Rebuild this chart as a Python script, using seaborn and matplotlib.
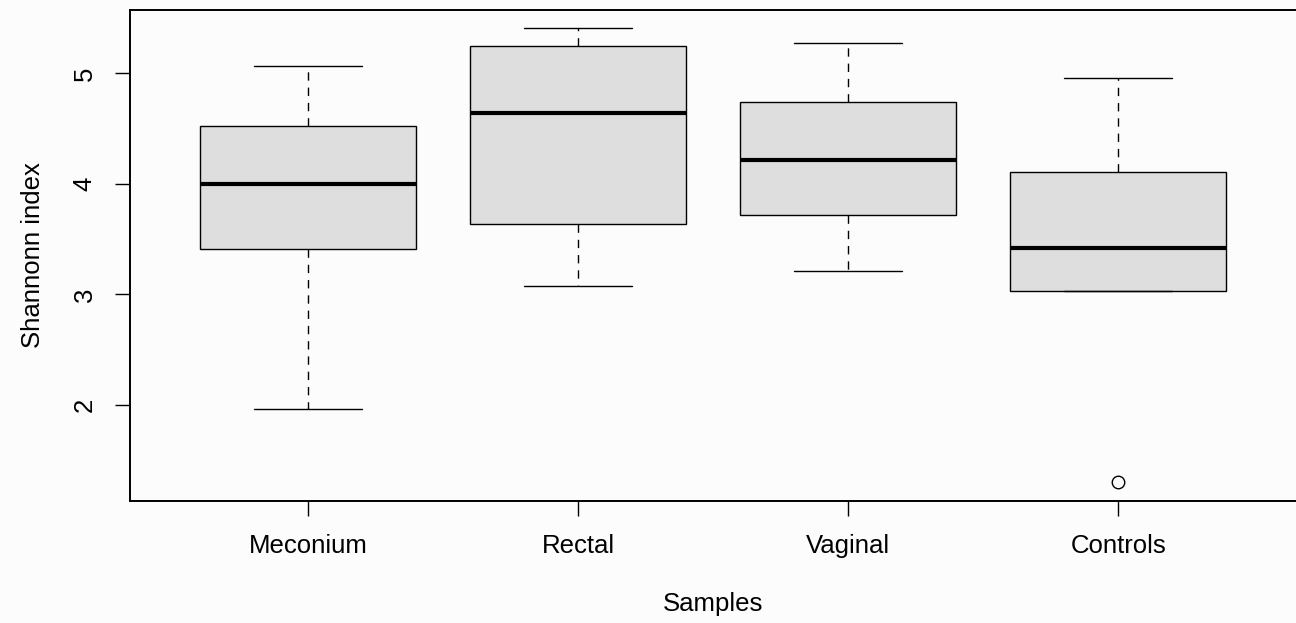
import pandas as pd
import matplotlib.pyplot as plt
import seaborn as sns

groups = ["Meconium", "Rectal", "Vaginal", "Controls"]
meconium = [1.96, 3.41, 4.00, 4.52, 5.07]
rectal = [3.08, 3.64, 4.64, 5.25, 5.41]
vaginal = [3.21, 3.72, 4.22, 4.74, 5.27]
controls = [1.30, 3.03, 3.03, 3.20, 3.42, 3.80, 4.11, 4.50, 4.96]
yticks = [2, 3, 4, 5]

df = pd.DataFrame({
    "Samples": ["Meconium"] * len(meconium) + ["Rectal"] * len(rectal)
    + ["Vaginal"] * len(vaginal) + ["Controls"] * len(controls),
    "Shannon": meconium + rectal + vaginal + controls,
})

sns.set_style("white")
plt.rcParams["font.family"] = ["Liberation Sans", "DejaVu Sans"]
plt.rcParams["text.color"] = "black"
plt.rcParams["axes.labelcolor"] = "black"
plt.rcParams["xtick.color"] = "black"
plt.rcParams["ytick.color"] = "black"

fig = plt.figure(figsize=(12.96, 6.23), dpi=100, facecolor="#fcfcfc")
ax = fig.add_axes([0.1003, 0.1958, 0.9, 0.788])
ax.set_facecolor("#fcfcfc")

sns.boxplot(
    data=df, x="Samples", y="Shannon", order=groups, ax=ax,
    width=0.8, color="#dedede", linecolor="black", linewidth=1.0,
    whiskerprops=dict(linestyle=(0, (6, 5)), linewidth=1.0),
    capprops=dict(linestyle="-", linewidth=1.0),
    medianprops=dict(linewidth=3.0, color="black"),
    flierprops=dict(marker="o", markersize=9, markerfacecolor="none",
                    markeredgecolor="black", markeredgewidth=1.0),
    boxprops=dict(edgecolor="black", facecolor="#dedede"),
)

ax.set_xlim(-0.659, 3.659)
ax.set_ylim(1.132, 5.572)
ax.set_yticks(yticks)
ax.set_yticklabels([str(t) for t in yticks], rotation=90, va="center")
ax.tick_params(axis="both", length=11, width=1.0, colors="black",
               labelsize=18.5, direction="out", left=True, bottom=True)
ax.tick_params(axis="x", pad=13)
ax.tick_params(axis="y", pad=13)

for side in ["left", "bottom", "top"]:
    ax.spines[side].set_color("black")
    ax.spines[side].set_linewidth(1.4)
ax.spines["right"].set_visible(False)

ax.set_xlabel("Samples", fontsize=18.5, labelpad=24, color="black")
ax.set_ylabel("Shannonn index", fontsize=18.5, labelpad=20, color="black")

plt.savefig("out.png", dpi=100, facecolor=fig.get_facecolor())
